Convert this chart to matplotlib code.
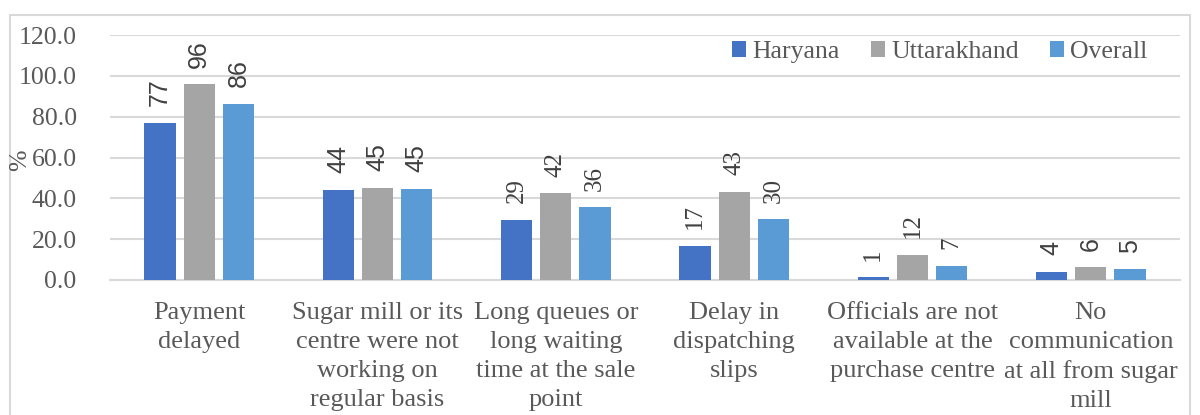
import numpy as np
import matplotlib
matplotlib.use("Agg")
from matplotlib import pyplot as plt
from matplotlib.patches import Rectangle

categories = [
    "Payment\ndelayed",
    "Sugar mill or its\ncentre were not\nworking on\nregular basis",
    "Long queues or\nlong waiting\ntime at the sale\npoint",
    "Delay in\ndispatching\nslips",
    "Officials are not\navailable at the\npurchase centre",
    "No\ncommunication\nat all from sugar\nmill",
]
series_names = ["Haryana", "Uttarakhand", "Overall"]
haryana = [76.9, 44.2, 29.4, 16.7, 1.3, 4.0]
uttarakhand = [95.8, 45.1, 42.4, 43.3, 12.4, 6.2]
overall = [86.2, 44.6, 35.6, 29.7, 6.9, 5.2]
y_ticks = [0, 20, 40, 60, 80, 100, 120]

colors = ["#4472C4", "#A5A5A5", "#5B9BD5"]
text_color = "#595959"
grid_color = "#D9D9D9"
serif = "Liberation Serif"
sans = "Liberation Sans"
# the data labels of some groups were drawn in a sans font in the original
label_fonts = [sans, sans, serif, serif, serif, sans]

plt.rcParams["font.family"] = serif
fs = 18.5

fig = plt.figure(figsize=(12, 4.15), dpi=100)
ax = fig.add_axes([110 / 1200, 1 - 280 / 415, 1070 / 1200, 245 / 415])

x = np.arange(len(categories))
width = 0.175
step = 0.22
all_series = [haryana, uttarakhand, overall]
for i, (name, vals) in enumerate(zip(series_names, all_series)):
    pos = x + (i - 1) * step
    bars = ax.bar(pos, vals, width, color=colors[i], label=name, zorder=3)
    for j, b in enumerate(bars):
        ax.annotate("%.0f" % vals[j], (b.get_x() + b.get_width() / 2, b.get_height()),
                    xytext=(0, 12), textcoords="offset points", rotation=90,
                    ha="center", va="bottom", fontsize=fs - 0.5, color="#404040",
                    family=label_fonts[j])

ax.set_xlim(-0.5, len(categories) - 0.5)
ax.set_ylim(0, 120)
ax.set_yticks(y_ticks)
ax.set_yticklabels(["%.1f" % t for t in y_ticks])
ax.set_xticks(x)
ax.set_xticklabels(categories, linespacing=1.4, fontsize=19)
ax.tick_params(axis="both", length=0, labelsize=fs, labelcolor=text_color)
ax.tick_params(axis="x", labelsize=19, pad=16)
ax.tick_params(axis="y", pad=24)
ax.grid(axis="y", color=grid_color, linewidth=1.5, zorder=0)
for s in ["top", "right", "left"]:
    ax.spines[s].set_visible(False)
ax.spines["bottom"].set_color(grid_color)
ax.spines["bottom"].set_linewidth(1.5)

fig.text(20 / 1200, 1 - 160 / 415, "%", rotation=90, ha="center", va="center",
         fontsize=fs, color=text_color)

fig.legend(loc="center", bbox_to_anchor=(0.783, 1 - 52 / 415), ncol=3, frameon=False,
           fontsize=fs, labelcolor=text_color, handlelength=0.55, handleheight=0.55,
           handletextpad=0.25, columnspacing=1.2)

fig.patches.append(Rectangle((10 / 1200, -0.1), 1180 / 1200, 1.1 - 15 / 415,
                             transform=fig.transFigure, fill=False,
                             edgecolor=grid_color, linewidth=1.5))

fig.savefig("out.png", dpi=100)
